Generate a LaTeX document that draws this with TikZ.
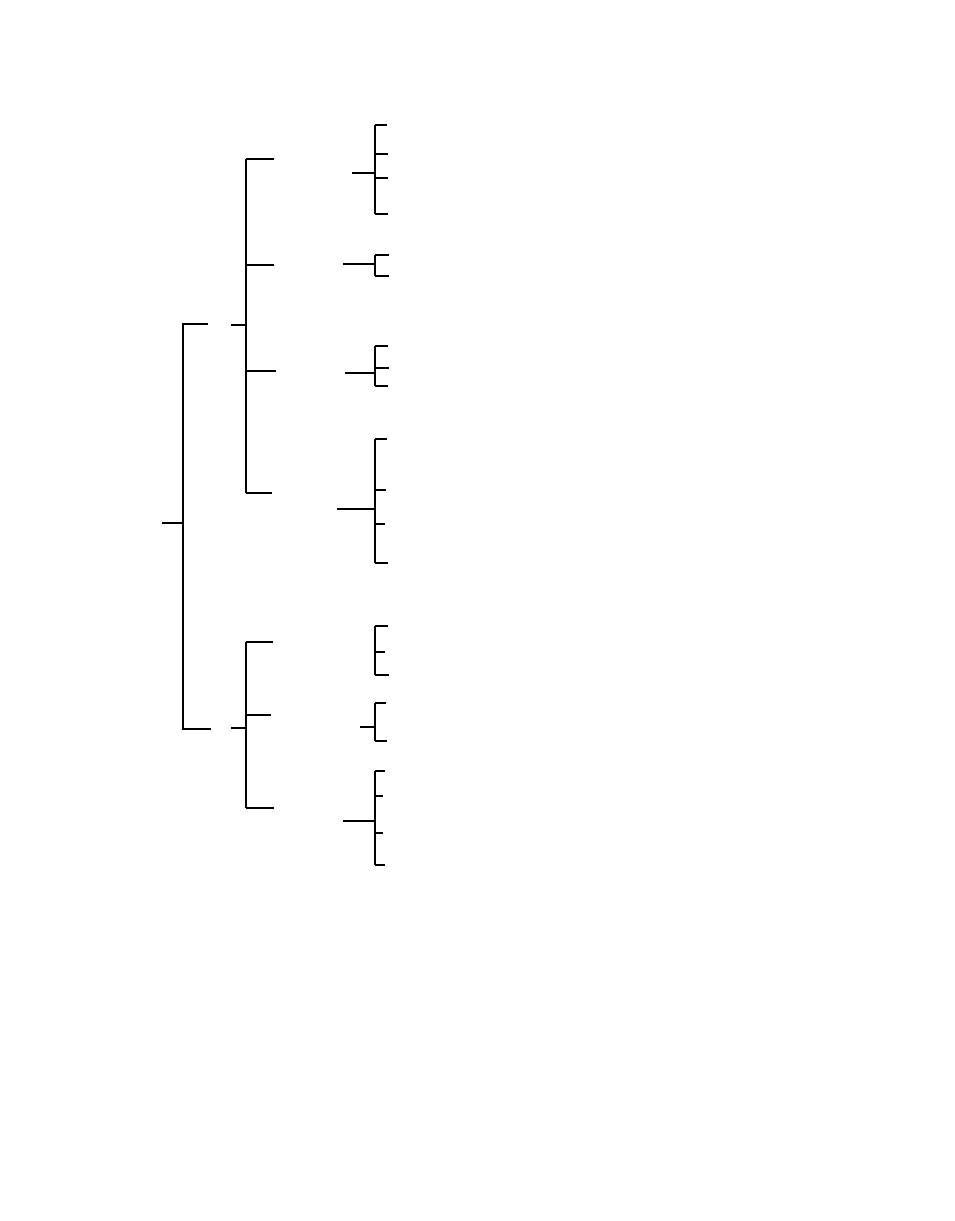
\documentclass[tikz,border=0pt]{standalone}
\tikzset{heavy/.style={line width=2.1pt},light/.style={line width=1.1pt}}
\begin{document}
\begin{tikzpicture}[x=1pt,y=-1pt]
\useasboundingbox (0,0) rectangle (954,1221);
% root bracket
\draw [heavy](162,523)--(183,523);
\draw [heavy](208,324)--(183,324)--(183,729)--(211,729);
% upper group
\draw [heavy](231,325)--(246,325);
\draw [light](246,159)--(246,493);
\draw [heavy](246,159)--(274,159);
\draw [heavy](246,265)--(274,265);
\draw [light](246,371)--(276,371);
\draw [heavy](246,493)--(272,493);
% lower group
\draw [heavy](231,728)--(246,728);
\draw [light](246,642)--(246,808);
\draw [heavy](246,642)--(273,642);
\draw [heavy](246,715)--(271,715);
\draw [heavy](246,808)--(274,808);
% leaves 1
\draw [heavy](352,173)--(375,173);
\draw [heavy](375,125)--(375,214);
\draw [light](375,125)--(387,125);
\draw [heavy](375,154)--(388,154);
\draw [light](375,178)--(388,178);
\draw [light](375,214)--(388,214);
% leaves 2
\draw [light](343,264)--(375,264);
\draw [heavy](375,255)--(375,276);
\draw [light](375,255)--(389,255);
\draw [heavy](375,276)--(389,276);
% leaves 3
\draw [light](345,373)--(375,373);
\draw [heavy](375,346)--(375,386);
\draw [heavy](375,346)--(388,346);
\draw [light](375,368)--(389,368);
\draw [heavy](375,386)--(388,386);
% leaves 4
\draw [heavy](337,509)--(375,509);
\draw [heavy](375,439)--(375,563);
\draw [light](375,439)--(387,439);
\draw [light](375,490)--(386,490);
\draw [heavy](375,524)--(385,524);
\draw [light](375,563)--(388,563);
% leaves 5
\draw [heavy](375,626)--(375,675);
\draw [light](375,626)--(388,626);
\draw [heavy](375,652)--(385,652);
\draw [heavy](375,675)--(389,675);
% leaves 6
\draw [light](360,727)--(375,727);
\draw [heavy](375,703)--(375,741);
\draw [heavy](375,703)--(386,703);
\draw [light](375,741)--(387,741);
% leaves 7
\draw [heavy](343,821)--(375,821);
\draw [heavy](375,771)--(375,865);
\draw [heavy](375,771)--(385,771);
\draw [light](375,796)--(383,796);
\draw [light](375,833)--(383,833);
\draw [heavy](375,865)--(385,865);
\end{tikzpicture}
\end{document}
